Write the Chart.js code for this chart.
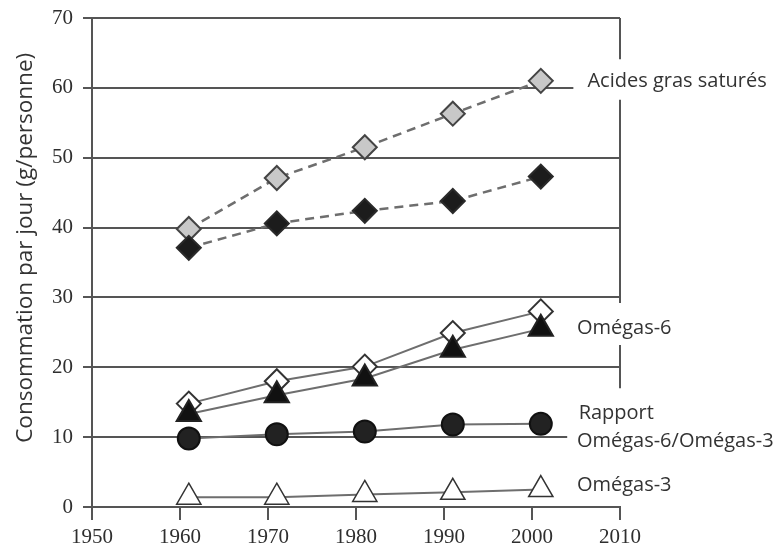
<!DOCTYPE html>
<html><head><meta charset="utf-8">
<script src="https://cdn.jsdelivr.net/npm/chart.js@4/dist/chart.umd.min.js"></script>
<style>html,body{margin:0;padding:0;background:#fff}#wrap{width:782px;height:547px}</style>
</head><body><div id="wrap"><canvas id="c" width="782" height="547"></canvas></div>
<script>
// ---- data ----
const years = [1961, 1971, 1981, 1991, 2001];
const agsGris = [39.8, 47.1, 51.5, 56.3, 61.0];
const agsNoir = [37.1, 40.6, 42.4, 43.8, 47.3];
const omega6Blanc = [14.8, 18.0, 20.1, 24.9, 28.0];
const omega6Noir = [13.3, 16.0, 18.4, 22.5, 25.5];
const rapport = [9.8, 10.4, 10.8, 11.8, 11.9];
const omega3 = [1.4, 1.4, 1.8, 2.1, 2.5];
const xTickLabels = [1950, 1960, 1970, 1980, 1990, 2000, 2010];
const yTickLabels = [0, 10, 20, 30, 40, 50, 60, 70];
const seriesLabels = ['Acides gras saturés', 'Omégas-6', 'Rapport', 'Omégas-6/Omégas-3', 'Omégas-3'];
const yTitle = 'Consommation par jour (g/personne)';

// ---- annotation anchors (data units) ----
const labelAnchors = [[2006.3, 60.9], [2005.1, 25.6], [2005.3, 13.4], [2005.1, 9.4], [2005.1, 3.1]];
const titleCenterValue = 37.1;
const gridEnds = {60: 2004.7, 10: 2004.0};
const rightBorderSegments = [[70, 64.1], [58.3, 29.2], [23.2, 17.0]];

const pts = arr => years.map((y, i) => ({x: y, y: arr[i]}));
const GRID = '#555';
const LINE = '#6e6e6e';

function ds(arr, opt) {
  return Object.assign({
    data: pts(arr), borderColor: LINE, borderWidth: 2, clip: false,
    pointBorderWidth: 2, pointBorderColor: '#333', tension: 0
  }, opt);
}

const frame = {
  id: 'frame',
  beforeDatasetsDraw(chart) {
    const {ctx, chartArea, scales: {x, y}} = chart;
    ctx.save();
    ctx.strokeStyle = GRID; ctx.lineWidth = 2;
    yTickLabels.forEach(v => {
      const py = Math.round(y.getPixelForValue(v));
      const xe = x.getPixelForValue(gridEnds[v] !== undefined ? gridEnds[v] : 2010);
      ctx.beginPath(); ctx.moveTo(chartArea.left, py); ctx.lineTo(xe, py); ctx.stroke();
    });
    const rx = x.getPixelForValue(2010);
    rightBorderSegments.forEach(([a, b]) => {
      ctx.beginPath(); ctx.moveTo(rx, y.getPixelForValue(a)); ctx.lineTo(rx, y.getPixelForValue(b)); ctx.stroke();
    });
    ctx.restore();
  },
  afterDraw(chart) {
    const {ctx, scales: {x, y}} = chart;
    ctx.save();
    ctx.fillStyle = '#333';
    ctx.font = '20px "Open Sans"';
    ctx.textAlign = 'left'; ctx.textBaseline = 'middle';
    seriesLabels.forEach((t, i) => {
      const [ax, ay] = labelAnchors[i];
      ctx.fillText(t, x.getPixelForValue(ax), y.getPixelForValue(ay));
    });
    ctx.restore();
    // y-axis title
    ctx.save();
    ctx.fillStyle = '#333';
    ctx.font = '22.5px "Open Sans"';
    ctx.textAlign = 'center'; ctx.textBaseline = 'alphabetic';
    ctx.translate(32, y.getPixelForValue(titleCenterValue));
    ctx.rotate(-Math.PI / 2);
    ctx.fillText(yTitle, 0, 0);
    ctx.restore();
  }
};

new Chart(document.getElementById('c'), {
  type: 'line',
  data: {
    datasets: [
      ds(agsNoir, {borderDash: [9, 6], borderWidth: 2.5, pointStyle: 'rectRot', pointRadius: 12, pointBackgroundColor: '#1c1c1c', pointBorderColor: '#2a2a2a'}),
      ds(agsGris, {borderDash: [9, 6], borderWidth: 2.5, pointStyle: 'rectRot', pointRadius: 12, pointBackgroundColor: '#c8c8c8', pointBorderColor: '#444'}),
      ds(omega6Noir, {pointStyle: 'triangle', pointRadius: 14, pointBackgroundColor: '#111', pointBorderColor: '#222'}),
      ds(omega6Blanc, {pointStyle: 'rectRot', pointRadius: 12, pointBackgroundColor: '#fff', pointBorderColor: '#333'}),
      ds(rapport, {pointStyle: 'circle', pointRadius: 11, pointBackgroundColor: '#222', pointBorderColor: '#111'}),
      ds(omega3, {pointStyle: 'triangle', pointRadius: 14, pointBackgroundColor: '#fff', pointBorderColor: '#333', pointBorderWidth: 1.5})
    ]
  },
  options: {
    responsive: false, animation: false, devicePixelRatio: 1,
    layout: {autoPadding: false, padding: {top: 18, right: 162, left: 0, bottom: 0}},
    plugins: {legend: {display: false}, tooltip: {enabled: false}},
    scales: {
      x: {
        type: 'linear', min: 1950, max: 2010,
        afterBuildTicks: s => { s.ticks = xTickLabels.map(v => ({value: v})); },
        ticks: {font: {family: '"Liberation Serif"', size: 21}, color: '#2e2e2e', padding: 5, callback: v => String(v)},
        grid: {drawOnChartArea: false, drawTicks: true, tickLength: 13, color: GRID, lineWidth: 2},
        border: {display: true, color: GRID, width: 2},
        afterFit: s => { s.height = 40; }
      },
      y: {
        min: 0, max: 70,
        afterBuildTicks: s => { s.ticks = yTickLabels.map(v => ({value: v})); },
        ticks: {font: {family: '"Liberation Serif"', size: 21}, color: '#2e2e2e', padding: 10, callback: v => String(v)},
        grid: {drawOnChartArea: false, drawTicks: true, tickLength: 9, color: GRID, lineWidth: 2},
        border: {display: true, color: GRID, width: 2},
        afterFit: s => { s.width = 92; s.paddingTop = 0; s.paddingBottom = 0; }
      }
    }
  },
  plugins: [frame]
});
</script></body></html>
